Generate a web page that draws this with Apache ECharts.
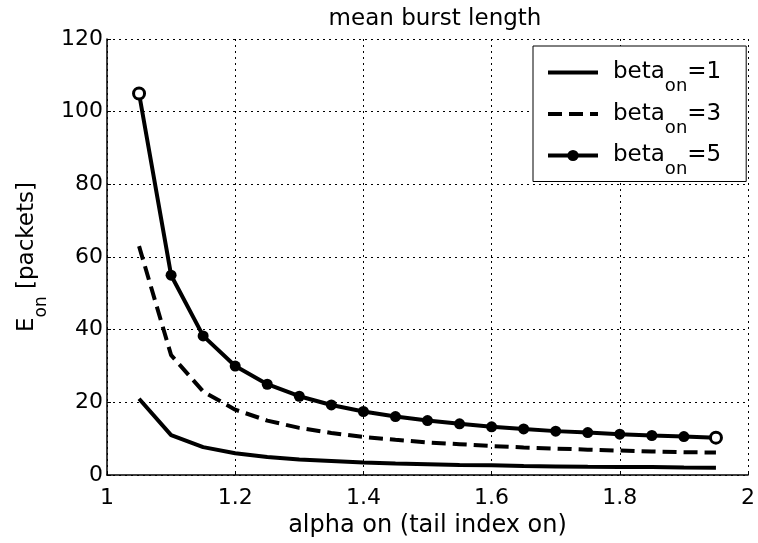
<!DOCTYPE html>
<html>
<head>
<meta charset="utf-8">
<script src="https://cdn.jsdelivr.net/npm/echarts@6/dist/echarts.min.js"></script>
<style>
html,body{margin:0;padding:0;background:#fff;}
#chart{width:758px;height:543px;}
</style>
</head>
<body>
<div id="chart"></div>
<script>
const alpha = [1.05,1.10,1.15,1.20,1.25,1.30,1.35,1.40,1.45,1.50,1.55,1.60,1.65,1.70,1.75,1.80,1.85,1.90,1.95];
const beta1 = [21,11,7.7,6,5,4.3,3.9,3.5,3.2,3,2.8,2.7,2.5,2.4,2.3,2.25,2.2,2.1,2.05];
const beta3 = [63,33,23,18,15,13,11.6,10.5,9.7,9,8.5,8,7.6,7.3,7,6.75,6.5,6.3,6.2];
const beta5 = [105,55,38.3,30,25,21.7,19.3,17.5,16.1,15,14.1,13.3,12.7,12.1,11.7,11.25,10.9,10.6,10.3];
const seriesNames = ['beta_on=1','beta_on=3','beta_on=5'];
const legendValues = {'beta_on=1':'1','beta_on=3':'3','beta_on=5':'5'};
const xTicks = {min:1, max:2, interval:0.2};
const yTicks = {min:0, max:120, interval:20};

const FONT = 'DejaVu Sans';
const pairs = (ys) => alpha.map((a,i)=>[a, ys[i]]);
const richSub = {
  m: {fontFamily: FONT, fontSize: 23, color: '#000'},
  s: {fontFamily: FONT, fontSize: 17, color: '#000', padding: [28,0,0,0]}
};
const richLegend = {
  f: {fontFamily: FONT, fontSize: 23, color: '#000', padding: [0,0,0,10]},
  m: {fontFamily: FONT, fontSize: 23, color: '#000'},
  s: {fontFamily: FONT, fontSize: 18, color: '#000', padding: [28,0,0,0]}
};
const noSymbol = {color: 'rgba(0,0,0,0)', borderWidth: 0, opacity: 0};

const chart = echarts.init(document.getElementById('chart'), null, {renderer:'canvas'});
chart.setOption({
  backgroundColor: '#fff',
  animation: false,
  textStyle: {fontFamily: FONT, color: '#000'},
  title: {
    text: 'mean burst length',
    left: 435, top: 8, padding: 0, textAlign: 'center',
    textStyle: {fontFamily: FONT, fontSize: 23, fontWeight: 'normal', color: '#000'}
  },
  grid: {left: 107, right: 8, top: 39, bottom: 62, containLabel: false},
  legend: {
    orient: 'vertical',
    left: 533, top: 46,
    padding: [15, 25, 3, 13],
    itemGap: 7,
    itemWidth: 50, itemHeight: 14,
    backgroundColor: '#fff',
    borderColor: '#000', borderWidth: 1,
    lineStyle: {width: 4},
    data: [
      {name: seriesNames[0], itemStyle: noSymbol},
      {name: seriesNames[1], itemStyle: noSymbol},
      {name: seriesNames[2]}
    ],
    formatter: (name) => '{f|beta}{s|on}{m|=' + legendValues[name] + '}',
    textStyle: {fontFamily: FONT, fontSize: 23, color: '#000', rich: richLegend}
  },
  xAxis: {
    type: 'value', min: xTicks.min, max: xTicks.max, interval: xTicks.interval,
    name: 'alpha on (tail index on)', nameLocation: 'middle', nameGap: 37,
    nameTextStyle: {fontFamily: FONT, fontSize: 24, color: '#000'},
    axisLine: {lineStyle: {color: '#000', width: 1.5}},
    axisTick: {inside: true, length: 4, lineStyle: {color: '#000'}},
    axisLabel: {fontFamily: FONT, fontSize: 22, color: '#000', margin: 12},
    splitLine: {show: true, lineStyle: {color: '#000', width: 1, type: [2,4]}}
  },
  yAxis: {
    type: 'value', min: yTicks.min, max: yTicks.max, interval: yTicks.interval,
    name: '{m|E}{s|on}{m| [packets]}', nameLocation: 'middle', nameGap: 57, nameRotate: 90,
    nameTextStyle: {fontFamily: FONT, fontSize: 23, color: '#000', rich: richSub},
    axisLine: {lineStyle: {color: '#000', width: 1.5}},
    axisTick: {inside: true, length: 4, lineStyle: {color: '#000'}},
    axisLabel: {fontFamily: FONT, fontSize: 22, color: '#000', margin: 4},
    splitLine: {show: true, lineStyle: {color: '#000', width: 1, type: [2,4]}}
  },
  series: [
    {
      name: seriesNames[0], type: 'line', data: pairs(beta1),
      showSymbol: false, symbol: 'none',
      lineStyle: {color: '#000', width: 4},
      itemStyle: {color: '#000'}, z: 3
    },
    {
      name: seriesNames[1], type: 'line', data: pairs(beta3),
      showSymbol: false, symbol: 'none',
      lineStyle: {color: '#000', width: 4, type: [14,7]},
      itemStyle: {color: '#000'}, z: 3
    },
    {
      name: seriesNames[2], type: 'line',
      data: pairs(beta5).map((p,i,arr)=> (i===0 || i===arr.length-1)
        ? {value: p, itemStyle: {color: '#fff', borderColor: '#000', borderWidth: 3}}
        : {value: p}),
      symbol: 'circle', symbolSize: 11, showSymbol: true,
      lineStyle: {color: '#000', width: 4},
      itemStyle: {color: '#000'}, z: 4
    }
  ]
});
</script>
</body>
</html>
